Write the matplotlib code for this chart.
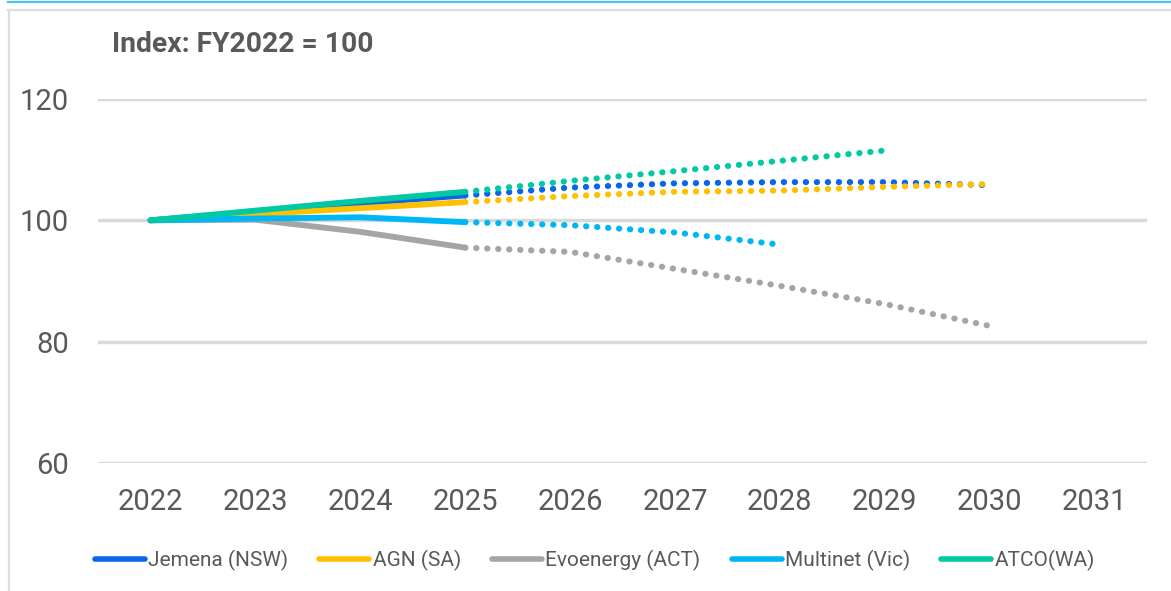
import matplotlib.pyplot as plt
from matplotlib.lines import Line2D

plt.rcParams['font.family'] = ['Roboto', 'DejaVu Sans']

# actuals FY2022-FY2025, forecasts from FY2025 on
years_actual = [2022, 2023, 2024, 2025]
names = ['Jemena (NSW)', 'AGN (SA)', 'Evoenergy (ACT)', 'Multinet (Vic)', 'ATCO(WA)']
colors = ['#0A66E8', '#FFC000', '#A5A5A5', '#00B7F5', '#00C9A4']

jemena_actual = [100, 101.4, 102.8, 104.1]
agn_actual = [100, 101.0, 102.0, 103.0]
evo_actual = [100, 100.1, 98.1, 95.5]
multinet_actual = [100, 100.3, 100.5, 99.7]
atco_actual = [100, 101.6, 103.2, 104.7]

jemena_fc_years = [2025, 2026, 2027, 2028, 2029, 2030]
jemena_fc = [104.1, 105.4, 106.1, 106.3, 106.3, 105.8]
agn_fc_years = [2025, 2026, 2027, 2028, 2029, 2030]
agn_fc = [103.0, 104.0, 104.7, 104.9, 105.5, 106.0]
evo_fc_years = [2025, 2026, 2027, 2028, 2029, 2030]
evo_fc = [95.5, 94.8, 92.0, 89.2, 86.2, 82.6]
multinet_fc_years = [2025, 2026, 2027, 2028]
multinet_fc = [99.7, 99.2, 98.0, 96.0]
atco_fc_years = [2025, 2026, 2027, 2028, 2029]
atco_fc = [104.7, 106.5, 108.1, 109.8, 111.5]

actuals = [jemena_actual, agn_actual, evo_actual, multinet_actual, atco_actual]
forecasts = [(jemena_fc_years, jemena_fc), (agn_fc_years, agn_fc),
             (evo_fc_years, evo_fc), (multinet_fc_years, multinet_fc),
             (atco_fc_years, atco_fc)]

text_col = '#595959'

fig = plt.figure(figsize=(11.71, 5.91), dpi=100)
ax = fig.add_axes([0.0837, 0.2166, 0.8958, 0.6159])

for (fy, fv), c in zip(forecasts, colors):
    ax.plot(fy, fv, color=c, lw=4.4, linestyle=(0, (0.05, 1.75)),
            dash_capstyle='round', zorder=3)
for vals, c in zip(actuals, colors):
    ax.plot(years_actual, vals, color=c, lw=4.2,
            solid_capstyle='round', zorder=4)

ax.set_xlim(2021.5, 2031.5)
ax.set_ylim(60, 120)
ax.set_yticks([60, 80, 100, 120])
ax.set_xticks(range(2022, 2032))
ax.grid(axis='y', color='#D9D9D9', lw=2.5)
ax.set_axisbelow(True)
for s in ax.spines.values():
    s.set_visible(False)
ax.tick_params(axis='both', length=0, labelsize=21, labelcolor=text_col)
ax.tick_params(axis='y', pad=21)
ax.tick_params(axis='x', pad=18)

fig.text(0.0956, 0.924, 'Index: FY2022 = 100', fontsize=20.3, fontweight='bold',
         color=text_col, va='center', ha='left')

handles = [Line2D([], [], color=c, lw=4, solid_capstyle='round') for c in colors]
fig.legend(handles, names, loc='center', bbox_to_anchor=(0.508, 0.052), ncol=5,
           frameon=False, fontsize=15, labelcolor=text_col,
           handlelength=2.4, handletextpad=0.15, columnspacing=1.5)

# frame around the panel
fig.add_artist(Line2D([8 / 1171, 1], [1 - 2 / 591, 1 - 2 / 591],
                      color='#4DC3F2', lw=1.6, transform=fig.transFigure))
fig.add_artist(Line2D([8 / 1171, 1], [1 - 10 / 591, 1 - 10 / 591],
                      color='#DDDDDD', lw=1.6, transform=fig.transFigure))
fig.add_artist(Line2D([9 / 1171, 9 / 1171], [0, 1 - 10 / 591],
                      color='#DDDDDD', lw=1.6, transform=fig.transFigure))

fig.savefig('out.png', dpi=100)
